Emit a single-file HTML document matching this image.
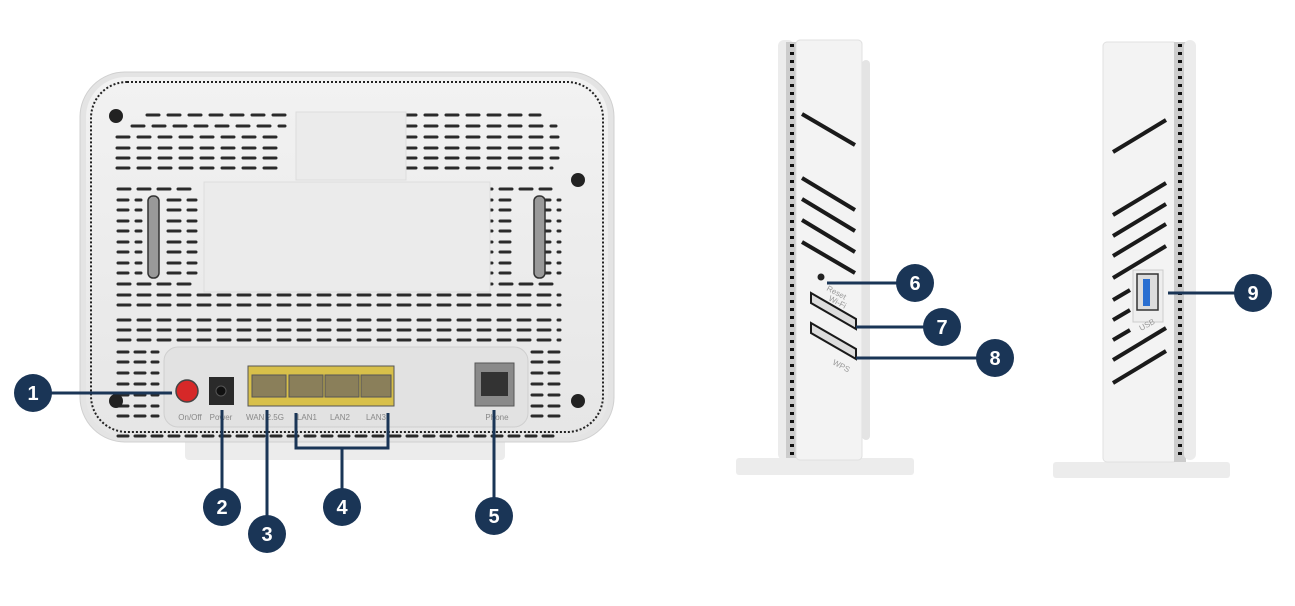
<!DOCTYPE html>
<html><head><meta charset="utf-8"><style>
html,body{margin:0;padding:0;background:#fff;width:1295px;height:606px;overflow:hidden}
svg{display:block}
text{font-family:"Liberation Sans",sans-serif}
.n{font-family:"Liberation Sans",sans-serif;font-weight:bold;font-size:20px;fill:#fff}
</style></head><body>
<svg width="1295" height="606" viewBox="0 0 1295 606">
<defs>
<linearGradient id="bg" x1="0" y1="0" x2="0" y2="1"><stop offset="0" stop-color="#f2f2f2"/><stop offset="1" stop-color="#e6e6e6"/></linearGradient>
</defs>
<!-- BACK VIEW -->
<rect x="185" y="436" width="320" height="24" rx="4" fill="#ececec"/>
<rect x="80" y="72" width="534" height="370" rx="45" fill="#e4e4e4" stroke="#d0d0d0"/>
<rect x="86" y="77" width="522" height="360" rx="40" fill="url(#bg)"/>
<rect x="91" y="82" width="512" height="350" rx="36" fill="none" stroke="#222" stroke-width="2" stroke-dasharray="2 2"/>
<g stroke="#2a2a2a" stroke-width="3" stroke-linecap="round" stroke-dasharray="12 9">
<line x1="147" y1="115" x2="285" y2="115"/>
<line x1="132" y1="126" x2="285" y2="126"/>
<line x1="117" y1="137" x2="285" y2="137"/>
<line x1="117" y1="148" x2="285" y2="148"/>
<line x1="117" y1="158" x2="285" y2="158"/>
<line x1="117" y1="168" x2="285" y2="168"/>
<line x1="404" y1="115" x2="540" y2="115"/>
<line x1="404" y1="126" x2="556" y2="126"/>
<line x1="404" y1="137" x2="558" y2="137"/>
<line x1="404" y1="148" x2="558" y2="148"/>
<line x1="404" y1="158" x2="558" y2="158"/>
<line x1="404" y1="168" x2="552" y2="168"/>
</g>
<g stroke="#2a2a2a" stroke-width="3" stroke-linecap="round" stroke-dasharray="12 8">
<line x1="118" y1="189" x2="196" y2="189"/>
<line x1="118" y1="284" x2="196" y2="284"/>
<line x1="480" y1="189" x2="551" y2="189"/>
<line x1="480" y1="284" x2="560" y2="284"/>
<line x1="118" y1="295" x2="560" y2="295"/>
<line x1="118" y1="305" x2="560" y2="305"/>
<line x1="118" y1="320" x2="560" y2="320"/>
<line x1="118" y1="330" x2="560" y2="330"/>
<line x1="118" y1="340" x2="560" y2="340"/>
</g>
<g stroke="#2a2a2a" stroke-width="3" stroke-linecap="round">
<path d="M118 200h10M136 200h5M168 200h28M118 210h10M136 210h5M168 210h28M118 221h10M136 221h5M168 221h28M118 231h10M136 231h5M168 231h28M118 242h10M136 242h5M168 242h28M118 252h10M136 252h5M168 252h28M118 263h10M136 263h5M168 263h28M118 273h10M136 273h5M168 273h28" stroke-dasharray="12 8"/>
<path d="M480 200h30M538 200h22M480 210h30M538 210h22M480 221h30M538 221h22M480 231h30M538 231h22M480 242h30M538 242h22M480 252h30M538 252h22M480 263h30M538 263h22M480 273h30M538 273h22" stroke-dasharray="12 8"/>
<path d="M118 352h40M118 362h40M118 373h40M118 384h40M118 395h40M118 406h40M118 416h40M532 352h28M532 362h28M532 373h28M532 384h28M532 395h28M532 406h28M532 416h28M118 436h442" stroke-dasharray="10 7"/>
</g>
<rect x="148" y="196" width="11" height="82" rx="5" fill="#999" stroke="#333" stroke-width="1.5"/>
<rect x="534" y="196" width="11" height="82" rx="5" fill="#999" stroke="#333" stroke-width="1.5"/>
<rect x="204" y="182" width="286" height="110" fill="#ebebeb" stroke="#ddd"/>
<rect x="296" y="112" width="110" height="68" fill="#ebebeb" stroke="#ddd"/>
<circle cx="116" cy="116" r="7" fill="#222"/>
<circle cx="578" cy="180" r="7" fill="#222"/>
<circle cx="116" cy="401" r="7" fill="#222"/>
<circle cx="578" cy="401" r="7" fill="#222"/>
<!-- port panel -->
<rect x="164" y="347" width="364" height="80" rx="14" fill="#e2e2e2" stroke="#cfcfcf"/>
<circle cx="187" cy="391" r="11" fill="#d62828" stroke="#444" stroke-width="1.5"/>
<rect x="209" y="377" width="25" height="28" fill="#2a2a2a"/><circle cx="221" cy="391" r="5" fill="#111" stroke="#555"/>
<rect x="248" y="366" width="146" height="40" fill="#d8c04a" stroke="#555"/>
<g fill="#8a7f5a" stroke="#555">
<rect x="252" y="375" width="34" height="22"/><rect x="289" y="375" width="34" height="22"/><rect x="325" y="375" width="34" height="22"/><rect x="361" y="375" width="30" height="22"/>
</g>
<rect x="475" y="363" width="39" height="43" fill="#8a8a8a" stroke="#555"/>
<rect x="481" y="372" width="27" height="24" fill="#333"/>
<g font-size="8" fill="#888" text-anchor="middle">
<text x="190" y="420">On/Off</text><text x="221" y="420">Power</text><text x="265" y="420">WAN 2.5G</text><text x="307" y="420">LAN1</text><text x="340" y="420">LAN2</text><text x="376" y="420">LAN3</text><text x="497" y="420">Phone</text>
</g>
<!-- LEFT SIDE VIEW -->
<rect x="736" y="458" width="178" height="17" rx="3" fill="#ececec"/>
<rect x="778" y="40" width="16" height="420" rx="6" fill="#ececec"/>
<rect x="786" y="42" width="12" height="416" fill="#ccc"/>
<line x1="792" y1="44" x2="792" y2="456" stroke="#111" stroke-width="4" stroke-dasharray="3 5"/>
<rect x="796" y="40" width="66" height="420" rx="4" fill="#f3f3f3" stroke="#e0e0e0"/>
<rect x="862" y="60" width="8" height="380" rx="4" fill="#e4e4e4"/>
<g stroke="#1a1a1a" stroke-width="4">
<line x1="802" y1="114" x2="855" y2="145"/><line x1="802" y1="178" x2="855" y2="210"/><line x1="802" y1="199" x2="855" y2="231"/><line x1="802" y1="220" x2="855" y2="252"/><line x1="802" y1="242" x2="855" y2="273"/>
</g>
<g stroke="#1a1a1a" stroke-width="2" fill="#ddd"><path d="M811 293l45 26v10l-45-26z"/><path d="M811 323l45 26v10l-45-26z"/></g>
<circle cx="821" cy="277" r="3.5" fill="#222"/>
<g font-size="8" fill="#999"><text x="826" y="290" transform="rotate(28 826 290)">Reset</text><text x="828" y="300" transform="rotate(28 828 300)">Wi-Fi</text><text x="832" y="364" transform="rotate(28 832 364)">WPS</text></g>
<!-- RIGHT SIDE VIEW -->
<rect x="1053" y="462" width="177" height="16" rx="3" fill="#ececec"/>
<rect x="1103" y="42" width="74" height="420" rx="4" fill="#f3f3f3" stroke="#e0e0e0"/>
<rect x="1174" y="42" width="12" height="420" fill="#ccc"/>
<line x1="1180" y1="44" x2="1180" y2="458" stroke="#111" stroke-width="4" stroke-dasharray="3 5"/>
<rect x="1184" y="40" width="12" height="420" rx="6" fill="#ececec"/>
<g stroke="#1a1a1a" stroke-width="4">
<line x1="1113" y1="152" x2="1166" y2="120"/><line x1="1113" y1="215" x2="1166" y2="183"/><line x1="1113" y1="236" x2="1166" y2="204"/><line x1="1113" y1="256" x2="1166" y2="224"/><line x1="1113" y1="278" x2="1166" y2="246"/>
<line x1="1113" y1="300" x2="1130" y2="290"/><line x1="1113" y1="320" x2="1130" y2="310"/><line x1="1113" y1="340" x2="1130" y2="330"/>
<line x1="1113" y1="360" x2="1166" y2="328"/><line x1="1113" y1="383" x2="1166" y2="351"/>
</g>
<rect x="1133" y="270" width="30" height="52" fill="#eee" stroke="#ccc"/>
<rect x="1137" y="274" width="21" height="36" fill="#ddd" stroke="#333" stroke-width="1.5"/>
<rect x="1143" y="279" width="7" height="27" fill="#2a6fd1"/>
<text x="1141" y="331" font-size="8" fill="#999" transform="rotate(-28 1141 331)">USB</text>
<!-- CONNECTORS -->
<g stroke="#1a3556" stroke-width="3" fill="none">
<line x1="40" y1="393" x2="172" y2="393"/>
<line x1="222" y1="410" x2="222" y2="500"/>
<line x1="267" y1="410" x2="267" y2="525"/>
<path d="M296 413V448H388V413M342 448V500"/>
<line x1="494" y1="410" x2="494" y2="505"/>
<line x1="827" y1="283" x2="905" y2="283"/>
<line x1="856" y1="327" x2="930" y2="327"/>
<line x1="856" y1="358" x2="985" y2="358"/>
<line x1="1168" y1="293" x2="1240" y2="293"/>
</g>
<g fill="#1a3556">
<circle cx="33" cy="393" r="19"/><circle cx="222" cy="507" r="19"/><circle cx="267" cy="534" r="19"/><circle cx="342" cy="507" r="19"/><circle cx="494" cy="516" r="19"/>
<circle cx="915" cy="283" r="19"/><circle cx="942" cy="327" r="19"/><circle cx="995" cy="358" r="19"/><circle cx="1253" cy="293" r="19"/>
</g>
<g class="n" text-anchor="middle">
<text x="33" y="400">1</text><text x="222" y="514">2</text><text x="267" y="541">3</text><text x="342" y="514">4</text><text x="494" y="523">5</text>
<text x="915" y="290">6</text><text x="942" y="334">7</text><text x="995" y="365">8</text><text x="1253" y="300">9</text>
</g>
</svg>
</body></html>
